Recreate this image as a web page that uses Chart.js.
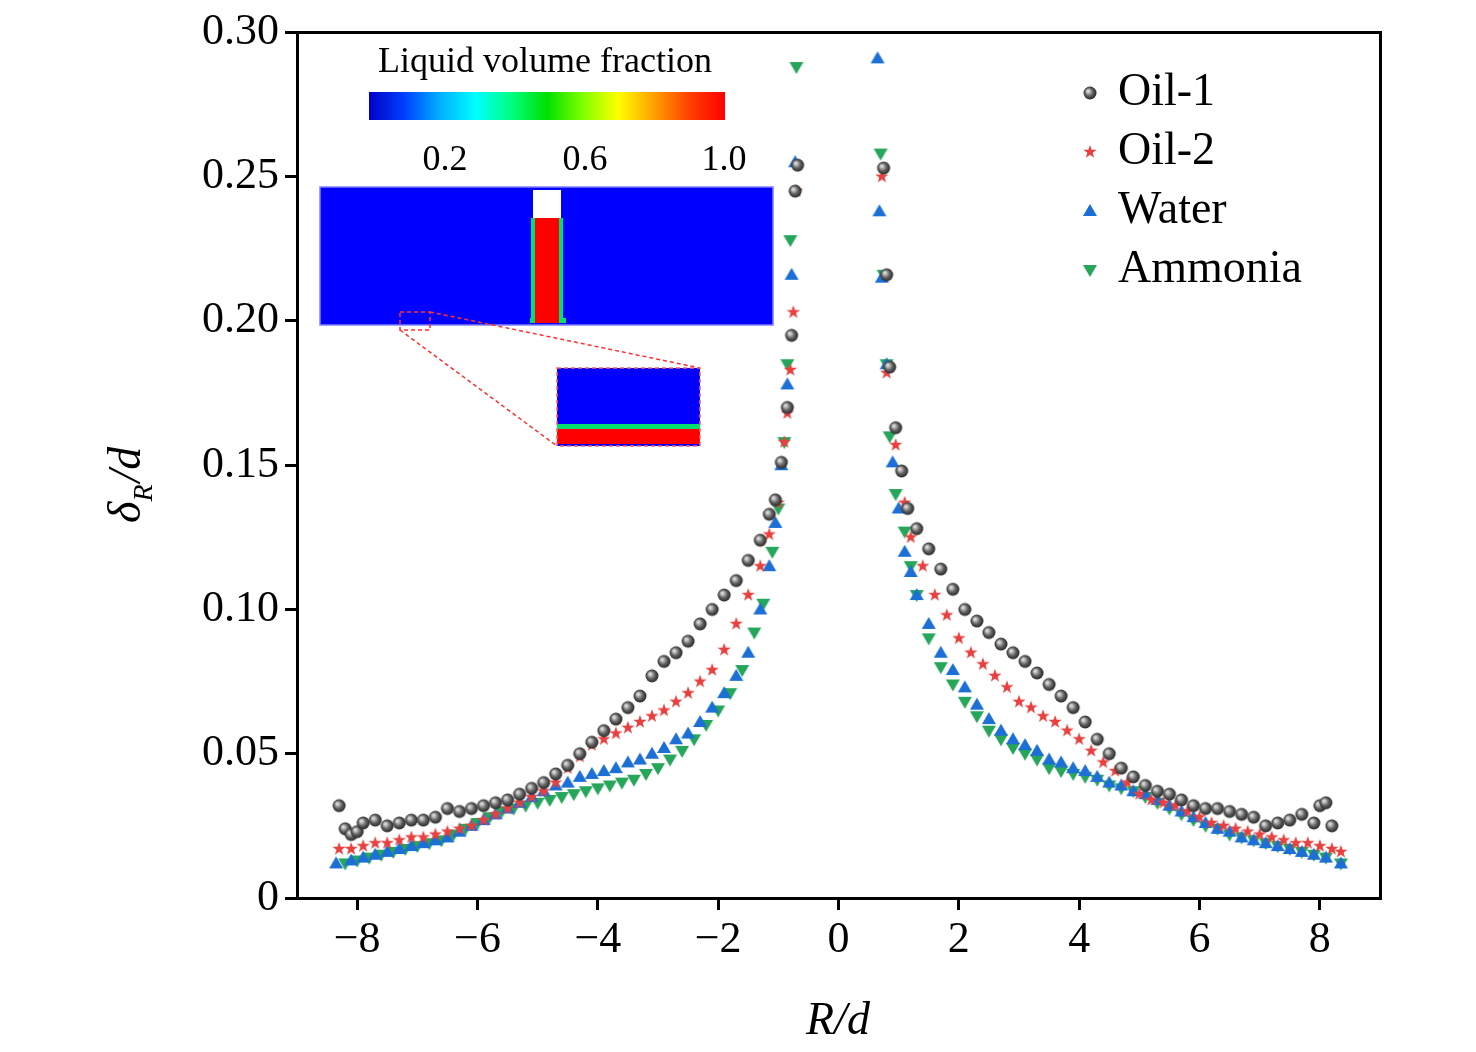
<!DOCTYPE html>
<html>
<head>
<meta charset="utf-8">
<script src="https://cdn.jsdelivr.net/npm/chart.js@4.4.1/dist/chart.umd.min.js"></script>
<style>
  html, body { margin: 0; padding: 0; background: #fff; }
  #wrap { width: 1476px; height: 1052px; }
</style>
</head>
<body>
<div id="wrap"><canvas id="c" width="1476" height="1052"></canvas></div>
<script>
// R/d and deltaR/d
const oil1X = [-8.3,-8.2,-8.1,-8.0,-7.9,-7.7,-7.5,-7.3,-7.1,-6.9,-6.7,-6.5,-6.3,-6.1,-5.9,-5.7,-5.5,-5.3,-5.1,-4.9,-4.7,-4.5,-4.3,-4.1,-3.9,-3.7,-3.5,-3.3,-3.1,-2.9,-2.7,-2.5,-2.3,-2.1,-1.9,-1.7,-1.5,-1.3,-1.15,-1.05,-0.95,-0.85,-0.78,-0.72,-0.68,
  0.75,0.8,0.85,0.95,1.05,1.15,1.3,1.5,1.7,1.9,2.1,2.3,2.5,2.7,2.9,3.1,3.3,3.5,3.7,3.9,4.1,4.3,4.5,4.7,4.9,5.1,5.3,5.5,5.7,5.9,6.1,6.3,6.5,6.7,6.9,7.1,7.3,7.5,7.7,7.9,8.0,8.1,8.2];
const oil1Y = [0.032,0.024,0.022,0.023,0.026,0.027,0.025,0.026,0.027,0.027,0.028,0.031,0.030,0.031,0.032,0.033,0.034,0.036,0.038,0.040,0.043,0.046,0.050,0.054,0.058,0.062,0.066,0.070,0.077,0.082,0.085,0.089,0.095,0.100,0.105,0.110,0.117,0.124,0.133,0.138,0.151,0.170,0.195,0.245,0.254,
  0.253,0.216,0.184,0.163,0.148,0.135,0.128,0.121,0.114,0.107,0.100,0.096,0.092,0.088,0.085,0.082,0.078,0.074,0.070,0.066,0.061,0.055,0.050,0.045,0.042,0.039,0.037,0.036,0.034,0.032,0.031,0.031,0.030,0.029,0.028,0.025,0.026,0.027,0.029,0.026,0.032,0.033,0.025];

const oil2X = [-8.3,-8.1,-7.9,-7.7,-7.5,-7.3,-7.1,-6.9,-6.7,-6.5,-6.3,-6.1,-5.9,-5.7,-5.5,-5.3,-5.1,-4.9,-4.7,-4.5,-4.3,-4.1,-3.9,-3.7,-3.5,-3.3,-3.1,-2.9,-2.7,-2.5,-2.3,-2.1,-1.9,-1.7,-1.5,-1.3,-1.15,-1.0,-0.9,-0.85,-0.8,-0.75,-0.7,
  0.72,0.8,0.95,1.1,1.2,1.4,1.6,1.8,2.0,2.2,2.4,2.6,2.8,3.0,3.2,3.4,3.6,3.8,4.0,4.2,4.4,4.6,4.8,5.0,5.2,5.4,5.6,5.8,6.0,6.2,6.4,6.6,6.8,7.0,7.2,7.4,7.6,7.8,8.0,8.2,8.35];
const oil2Y = [0.017,0.017,0.018,0.019,0.019,0.020,0.021,0.021,0.022,0.023,0.024,0.025,0.027,0.029,0.031,0.033,0.035,0.037,0.040,0.045,0.049,0.053,0.055,0.057,0.059,0.061,0.063,0.065,0.068,0.071,0.075,0.079,0.086,0.095,0.105,0.115,0.126,0.137,0.158,0.168,0.183,0.203,0.245,
  0.250,0.182,0.157,0.137,0.125,0.115,0.105,0.098,0.090,0.085,0.081,0.077,0.073,0.068,0.066,0.063,0.061,0.058,0.055,0.051,0.047,0.044,0.040,0.036,0.034,0.033,0.032,0.030,0.028,0.026,0.025,0.024,0.023,0.022,0.021,0.020,0.019,0.019,0.018,0.017,0.016];

const waterX = [-8.35,-8.1,-7.9,-7.7,-7.5,-7.3,-7.1,-6.9,-6.7,-6.5,-6.3,-6.1,-5.9,-5.7,-5.5,-5.3,-5.1,-4.9,-4.7,-4.5,-4.3,-4.1,-3.9,-3.7,-3.5,-3.3,-3.1,-2.9,-2.7,-2.5,-2.3,-2.1,-1.9,-1.7,-1.5,-1.3,-1.15,-1.05,-0.95,-0.85,-0.78,-0.72,
  0.65,0.68,0.72,0.8,0.9,1.0,1.1,1.2,1.3,1.5,1.7,1.9,2.1,2.3,2.5,2.7,2.9,3.1,3.3,3.5,3.7,3.9,4.1,4.3,4.5,4.7,4.9,5.1,5.3,5.5,5.7,5.9,6.1,6.3,6.5,6.7,6.9,7.1,7.3,7.5,7.7,7.9,8.1,8.35];
const waterY = [0.012,0.013,0.014,0.015,0.016,0.017,0.018,0.019,0.020,0.021,0.023,0.025,0.027,0.029,0.031,0.033,0.035,0.037,0.039,0.040,0.042,0.043,0.044,0.045,0.047,0.048,0.050,0.052,0.055,0.057,0.061,0.066,0.071,0.077,0.085,0.100,0.115,0.130,0.150,0.178,0.216,0.255,
  0.291,0.238,0.215,0.185,0.151,0.135,0.120,0.113,0.105,0.095,0.085,0.079,0.073,0.067,0.062,0.058,0.055,0.053,0.051,0.048,0.047,0.045,0.044,0.042,0.040,0.039,0.037,0.036,0.034,0.032,0.030,0.028,0.026,0.024,0.023,0.021,0.020,0.019,0.018,0.017,0.016,0.015,0.014,0.012];

const ammoniaX = [-8.2,-8.0,-7.8,-7.6,-7.4,-7.2,-7.0,-6.8,-6.6,-6.4,-6.2,-6.0,-5.8,-5.6,-5.4,-5.2,-5.0,-4.8,-4.6,-4.4,-4.2,-4.0,-3.8,-3.6,-3.4,-3.2,-3.0,-2.8,-2.6,-2.4,-2.2,-2.0,-1.8,-1.6,-1.4,-1.25,-1.1,-1.0,-0.9,-0.85,-0.8,-0.7,
  0.7,0.75,0.8,0.85,0.95,1.1,1.2,1.3,1.5,1.7,1.9,2.1,2.3,2.5,2.7,2.9,3.1,3.3,3.5,3.7,3.9,4.1,4.3,4.5,4.7,4.9,5.1,5.3,5.5,5.7,5.9,6.1,6.3,6.5,6.7,6.9,7.1,7.3,7.5,7.7,7.9,8.1,8.35];
const ammoniaY = [0.012,0.013,0.014,0.015,0.016,0.017,0.018,0.019,0.020,0.022,0.024,0.026,0.028,0.030,0.031,0.032,0.033,0.034,0.035,0.036,0.037,0.038,0.039,0.040,0.041,0.043,0.045,0.048,0.051,0.055,0.060,0.065,0.071,0.079,0.092,0.102,0.120,0.135,0.158,0.185,0.228,0.288,
  0.258,0.216,0.185,0.160,0.140,0.127,0.115,0.105,0.090,0.080,0.074,0.068,0.063,0.058,0.055,0.052,0.050,0.048,0.045,0.044,0.043,0.042,0.041,0.039,0.038,0.037,0.035,0.033,0.031,0.029,0.027,0.025,0.024,0.022,0.021,0.020,0.019,0.018,0.017,0.016,0.015,0.014,0.012];

const xTicks = [-8,-6,-4,-2,0,2,4,6,8];
const yTicks = [0,0.05,0.10,0.15,0.20,0.25,0.30];
const seriesNames = ['Oil-1','Oil-2','Water','Ammonia'];

const serif = '"Liberation Serif", "DejaVu Serif", serif';

function markerCanvas(kind) {
  const s = 20, cv = document.createElement('canvas');
  cv.width = s; cv.height = s;
  const g = cv.getContext('2d');
  const c = s / 2;
  if (kind === 'ball') {
    const gr = g.createRadialGradient(c - 2, c - 2, 1, c, c, 7);
    gr.addColorStop(0, '#d8d8d8'); gr.addColorStop(0.5, '#606060'); gr.addColorStop(1, '#202020');
    g.fillStyle = gr; g.beginPath(); g.arc(c, c, 6.5, 0, Math.PI * 2); g.fill();
  } else if (kind === 'star') {
    g.fillStyle = '#e8403f'; g.beginPath();
    for (let i = 0; i < 10; i++) {
      const r = i % 2 ? 2.8 : 7, a = -Math.PI / 2 + i * Math.PI / 5;
      g.lineTo(c + r * Math.cos(a), c + r * Math.sin(a));
    }
    g.closePath(); g.fill();
  } else {
    g.fillStyle = kind === 'up' ? '#1c6fd4' : '#26a65b';
    g.beginPath();
    if (kind === 'up') { g.moveTo(c, c - 7); g.lineTo(c + 7, c + 5); g.lineTo(c - 7, c + 5); }
    else { g.moveTo(c, c + 7); g.lineTo(c + 7, c - 5); g.lineTo(c - 7, c - 5); }
    g.closePath(); g.fill();
  }
  return cv;
}
const markers = [markerCanvas('ball'), markerCanvas('star'), markerCanvas('up'), markerCanvas('down')];

function pts(xs, ys) { return xs.map((x, i) => ({ x: x, y: ys[i] })); }

const decor = {
  id: 'decor',
  afterDraw(chart) {
    const g = chart.ctx;
    g.save();
    // colour bar
    g.fillStyle = '#000'; g.font = '36px ' + serif; g.textAlign = 'center'; g.textBaseline = 'alphabetic';
    g.fillText('Liquid volume fraction', 545, 72);
    const gr = g.createLinearGradient(369, 0, 725, 0);
    ['#0000c8','#0040ff','#00b0ff','#00ffff','#00ff80','#00e000','#80ff00','#ffff00','#ffa000','#ff4000','#ff0000']
      .forEach((col, i, a) => gr.addColorStop(i / (a.length - 1), col));
    g.fillStyle = gr; g.fillRect(369, 92, 356, 28);
    g.fillStyle = '#000';
    g.fillText('0.2', 445, 170); g.fillText('0.6', 585, 170); g.fillText('1.0', 724, 170);
    // contour image
    g.fillStyle = '#0000ff'; g.fillRect(320, 187, 453, 138);
    g.strokeStyle = '#8080ff'; g.lineWidth = 1.5; g.strokeRect(320, 187, 453, 138);
    g.fillStyle = '#ffffff'; g.fillRect(533, 190, 28, 28);
    g.fillStyle = '#00e070'; g.fillRect(530, 318, 36, 5); g.fillRect(531, 218, 32, 102);
    g.fillStyle = '#ff0000'; g.fillRect(535, 218, 24, 105);
    // zoom box and inset
    g.setLineDash([4, 3]); g.strokeStyle = '#ff3030'; g.lineWidth = 1.5;
    g.strokeRect(400, 312, 30, 18);
    g.beginPath(); g.moveTo(400, 330); g.lineTo(557, 446); g.moveTo(430, 312); g.lineTo(700, 368); g.stroke();
    g.setLineDash([]);
    g.fillStyle = '#0000ff'; g.fillRect(557, 368, 143, 78);
    g.fillStyle = '#00e070'; g.fillRect(557, 424, 143, 5);
    g.fillStyle = '#ff0000'; g.fillRect(557, 429, 143, 15);
    g.setLineDash([4, 3]); g.strokeStyle = '#ff6060'; g.strokeRect(557, 368, 143, 78); g.setLineDash([]);
    // legend
    g.font = '46px ' + serif; g.textAlign = 'left'; g.textBaseline = 'middle'; g.fillStyle = '#000';
    seriesNames.forEach((n, i) => {
      const y = 93 + i * 59;
      g.drawImage(markers[i], 1080, y - 10);
      g.fillText(n, 1118, y);
    });
    // axis titles
    g.textAlign = 'center'; g.textBaseline = 'alphabetic';
    g.font = 'italic 46px ' + serif;
    g.fillText('R/d', 838, 1034);
    g.translate(140, 463); g.rotate(-Math.PI / 2);
    g.textAlign = 'left';
    g.fillText('\u03b4', -60, 0);
    const w1 = g.measureText('\u03b4').width;
    g.font = 'italic 28px ' + serif; g.fillText('R', -60 + w1, 12);
    const w2 = g.measureText('R').width;
    g.font = 'italic 46px ' + serif; g.fillText('/d', -60 + w1 + w2 + 2, 0);
    g.restore();
  }
};

new Chart(document.getElementById('c'), {
  type: 'scatter',
  data: {
    datasets: [
      { label: seriesNames[0], data: pts(oil1X, oil1Y), pointStyle: markers[0] },
      { label: seriesNames[1], data: pts(oil2X, oil2Y), pointStyle: markers[1] },
      { label: seriesNames[2], data: pts(waterX, waterY), pointStyle: markers[2] },
      { label: seriesNames[3], data: pts(ammoniaX, ammoniaY), pointStyle: markers[3] }
    ]
  },
  options: {
    responsive: false,
    animation: false,
    layout: { padding: { left: 0, right: 96, top: 28, bottom: 0 } },
    plugins: { legend: { display: false }, tooltip: { enabled: false } },
    scales: {
      x: {
        type: 'linear', min: -9, max: 9,
        afterBuildTicks: s => { s.ticks = xTicks.map(v => ({ value: v })); },
        afterFit: s => { s.height = 154; },
        ticks: { color: '#000', font: { family: serif, size: 44 }, padding: 4,
          callback: v => (v < 0 ? '\u2212' + Math.abs(v) : String(v)) },
        grid: { drawOnChartArea: false, drawTicks: true, tickLength: 12, color: '#000', lineWidth: 3 },
        border: { color: '#000', width: 3 }
      },
      y: {
        min: 0, max: 0.3,
        afterBuildTicks: s => { s.ticks = yTicks.map(v => ({ value: v })); },
        afterFit: s => { s.width = 297; },
        ticks: { color: '#000', font: { family: serif, size: 44 }, padding: 6,
          callback: v => (v === 0 ? '0' : v.toFixed(2)) },
        grid: { drawOnChartArea: false, drawTicks: true, tickLength: 12, color: '#000', lineWidth: 3 },
        border: { color: '#000', width: 3 }
      },
      x2: { position: 'top', min: -9, max: 9, ticks: { display: false },
        grid: { display: false }, border: { color: '#000', width: 3 }, afterFit: s => { s.height = 0; } },
      y2: { position: 'right', min: 0, max: 0.3, ticks: { display: false },
        grid: { display: false }, border: { color: '#000', width: 3 }, afterFit: s => { s.width = 0; } }
    }
  },
  plugins: [decor]
});
</script>
</body>
</html>
